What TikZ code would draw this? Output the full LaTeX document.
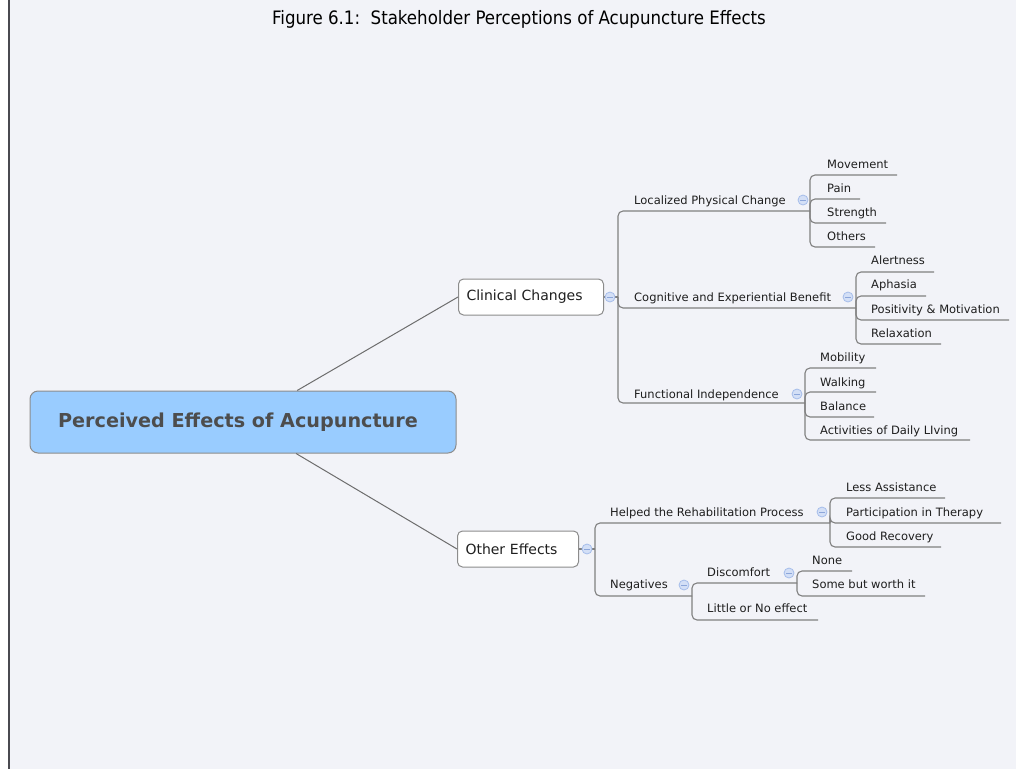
\documentclass[tikz,border=0pt]{standalone}
\usepackage{fontspec}
\setmainfont{DejaVu Sans}
\newfontfamily\condfont{DejaVu Sans Condensed}
\definecolor{canvasbg}{HTML}{F2F3F8}
\definecolor{framecol}{HTML}{4A4A50}
\definecolor{rootfill}{HTML}{99CCFF}
\definecolor{rootedge}{HTML}{8C8C8C}
\definecolor{roottext}{HTML}{4D4D4D}
\definecolor{linecol}{HTML}{808080}
\definecolor{foldfill}{HTML}{D3DFF6}
\definecolor{foldedge}{HTML}{A6BDEA}
\definecolor{foldmark}{HTML}{8CA6DA}
\definecolor{labeltext}{HTML}{1E1E1E}
\tikzset{
  rootbox/.style={draw=rootedge, fill=rootfill, line width=1pt, rounded corners=8pt,
    minimum width=426pt, minimum height=62pt, inner sep=0pt,
    font=\bfseries\fontsize{19.2}{22}\selectfont, text=roottext},
  topicbox/.style={draw=rootedge, fill=white, line width=1pt, rounded corners=5pt,
    anchor=west, minimum height=36pt, inner xsep=8pt, inner ysep=0pt, align=left,
    font=\fontsize{14}{16}\selectfont, text=labeltext},
  leaf/.style={anchor=west, inner sep=0pt, text height=8.4pt, text depth=0pt,
    font=\fontsize{11.5}{13}\selectfont, text=labeltext},
  conn/.style={draw=linecol, line width=1.1pt, rounded corners=5pt},
  rootlink/.style={draw=linecol!85!black, line width=1pt},
  fold/.style={circle, draw=foldedge, fill=foldfill, line width=0.8pt,
    minimum size=10pt, inner sep=0pt,
    path picture={\draw[foldmark, line width=0.8pt]
      ([xshift=-2.6pt]path picture bounding box.center) --
      ([xshift=2.6pt]path picture bounding box.center);}},
}
\begin{document}
\begin{tikzpicture}[x=1pt,y=-1pt]
\useasboundingbox (0,0) rectangle (1018,769);
% page background and left rule
\fill[white] (0,0) rectangle (1018,769);
\fill[canvasbg] (10,0) rectangle (1016,769);
\draw[framecol, line width=2pt] (9,0) -- (9,769);

% caption
\node[font=\condfont\fontsize{18.5}{20}\selectfont, text=black] (title) at (519,19)
  {Figure 6.1:\ \ Stakeholder Perceptions of Acupuncture Effects};

% central topic and main branches
\node[rootbox] (root) at (243,422) {\hspace*{-10pt}Perceived Effects of Acupuncture};
\node[topicbox, text width=129pt] (cc) at (458,297) {Clinical Changes};
\node[topicbox, text width=105pt] (oe) at (457,549) {Other Effects};
\draw[rootlink] (root) -- (cc.west);
\draw[rootlink] (root) -- (oe.west);

% ---------- Clinical Changes ----------
\coordinate (cc-j) at (618,297);
\node[leaf] (loc) at (634,200) {Localized Physical Change};
\node[leaf] (cog) at (634,297) {Cognitive and Experiential Benefit};
\node[leaf] (fun) at (634,394) {Functional Independence};
\coordinate (loc-u) at (810,211);
\coordinate (cog-u) at (856,308);
\coordinate (fun-u) at (805,403);

\node[leaf] (mov) at (827,164) {Movement};
\node[leaf] (pain) at (827,188) {Pain};
\node[leaf] (str) at (827,212) {Strength};
\node[leaf] (oth) at (827,236) {Others};
\coordinate (mov-u) at (897,175);
\coordinate (pain-u) at (860,199);
\coordinate (str-u) at (886,223);
\coordinate (oth-u) at (875,247);

\node[leaf] (ale) at (871,260) {Alertness};
\node[leaf] (aph) at (871,284) {Aphasia};
\node[leaf] (pos) at (871,309) {Positivity \& Motivation};
\node[leaf] (rel) at (871,333) {Relaxation};
\coordinate (ale-u) at (934,272);
\coordinate (aph-u) at (926,296);
\coordinate (pos-u) at (1009,320);
\coordinate (rel-u) at (941,344);

\node[leaf] (mob) at (820,357) {Mobility};
\node[leaf] (wal) at (820,382) {Walking};
\node[leaf] (bal) at (820,406) {Balance};
\node[leaf] (adl) at (820,430) {Activities of Daily LIving};
\coordinate (mob-u) at (876,368);
\coordinate (wal-u) at (876,392);
\coordinate (bal-u) at (874,417);
\coordinate (adl-u) at (970,440);

\draw[conn] (cc.east) -- (cc-j);
\foreach \c in {loc,cog,fun} \draw[conn] (cc-j) |- (\c-u);
\foreach \c in {mov,pain,str,oth} \draw[conn] (loc-u) |- (\c-u);
\foreach \c in {ale,aph,pos,rel} \draw[conn] (cog-u) |- (\c-u);
\foreach \c in {mob,wal,bal,adl} \draw[conn] (fun-u) |- (\c-u);

% ---------- Other Effects ----------
\coordinate (oe-j) at (595,549);
\node[leaf] (hel) at (610,512) {Helped the Rehabilitation Process};
\node[leaf] (neg) at (610,584) {Negatives};
\coordinate (hel-u) at (830,523);
\coordinate (neg-u) at (692,596);

\node[leaf] (les) at (846,487) {Less Assistance};
\node[leaf] (par) at (846,512) {Participation in Therapy};
\node[leaf] (goo) at (846,536) {Good Recovery};
\coordinate (les-u) at (945,498);
\coordinate (par-u) at (1001,523);
\coordinate (goo-u) at (941,547);

\node[leaf] (dis) at (707,572) {Discomfort};
\node[leaf] (lit) at (707,608) {Little or No effect};
\coordinate (dis-u) at (797,583);
\coordinate (lit-u) at (818,620);

\node[leaf] (non) at (812,560) {None};
\node[leaf] (som) at (812,584) {Some but worth it};
\coordinate (non-u) at (852,571);
\coordinate (som-u) at (925,596);

\draw[conn] (oe.east) -- (oe-j);
\foreach \c in {hel,neg} \draw[conn] (oe-j) |- (\c-u);
\foreach \c in {les,par,goo} \draw[conn] (hel-u) |- (\c-u);
\foreach \c in {dis,lit} \draw[conn] (neg-u) |- (\c-u);
\foreach \c in {non,som} \draw[conn] (dis-u) |- (\c-u);

% collapse markers
\node[fold] (cc-f) at (610,297) {};
\node[fold] (oe-f) at (587,549) {};
\node[fold] (loc-f) at (803,200) {};
\node[fold] (cog-f) at (848,297) {};
\node[fold] (fun-f) at (797,394) {};
\node[fold] (hel-f) at (822,512) {};
\node[fold] (neg-f) at (684,585) {};
\node[fold] (dis-f) at (789,573) {};
\end{tikzpicture}
\end{document}
